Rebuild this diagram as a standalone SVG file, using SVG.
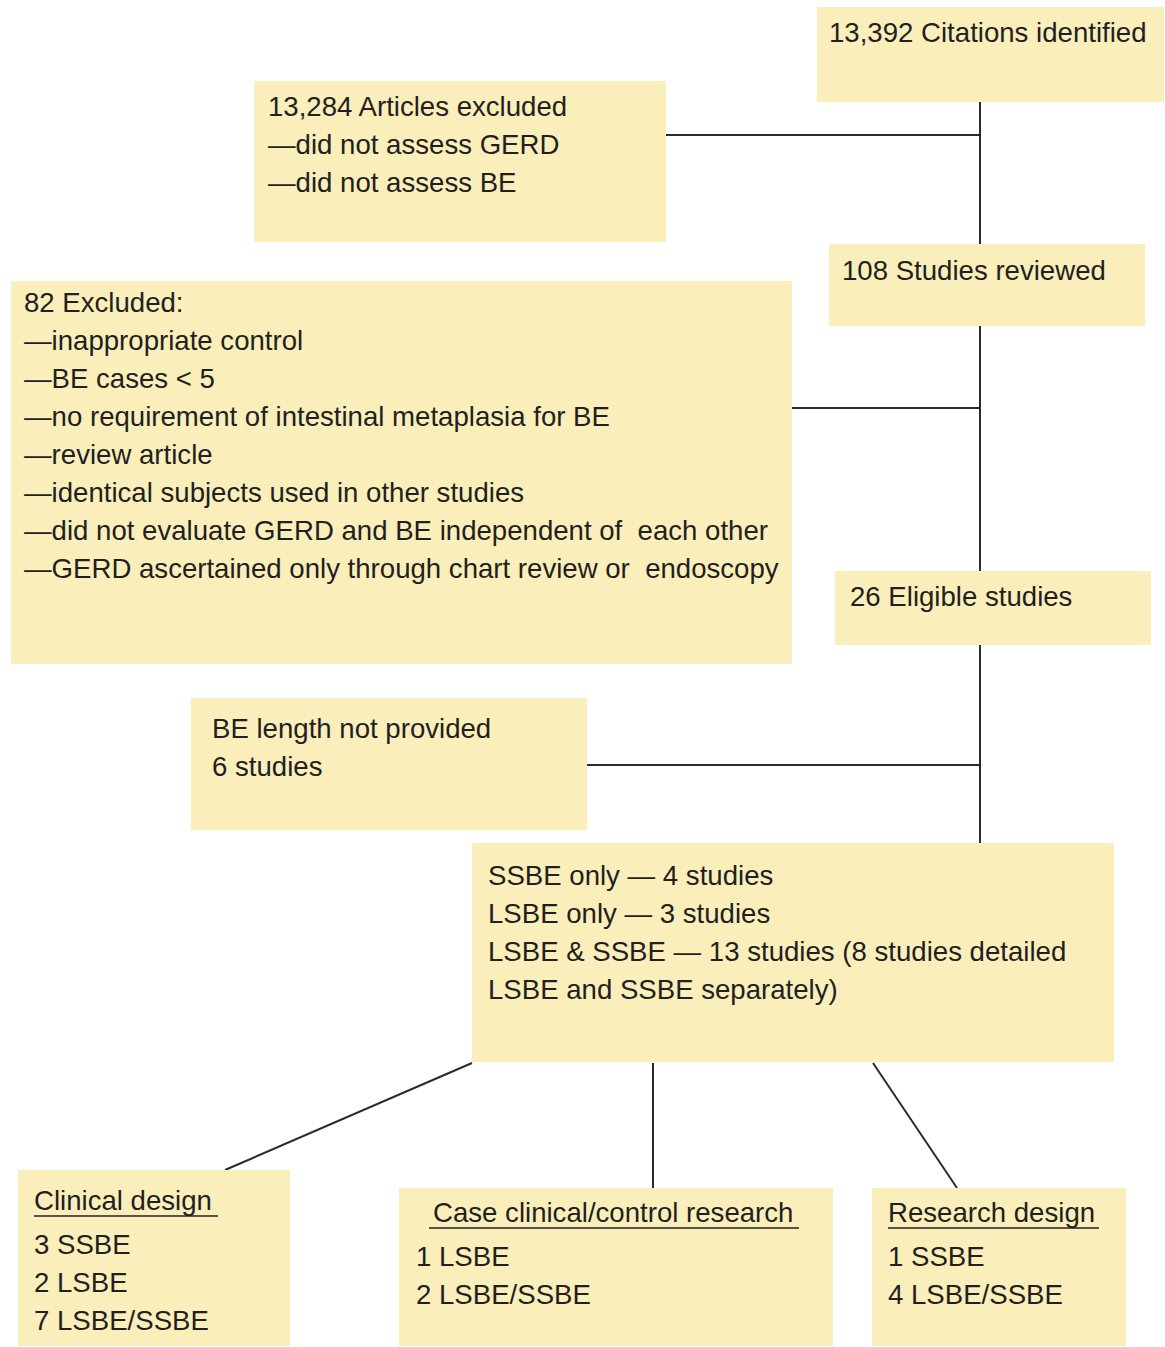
<svg xmlns="http://www.w3.org/2000/svg" width="1165" height="1347" viewBox="0 0 1165 1347">
<style>
.box{fill:#faefbb;stroke:none}
text{font-family:"Liberation Sans",Arial,sans-serif;font-size:27.6px;fill:#231f20}
.ln{stroke:#2b2b2b;stroke-width:2;fill:none}
.ul{stroke:#231f20;stroke-width:1.5}
</style>
<rect width="1165" height="1347" fill="#ffffff"/>
<g id="connectors">
<line class="ln" x1="980" y1="101" x2="980" y2="843"/>
<line class="ln" x1="665" y1="135" x2="980" y2="135"/>
<line class="ln" x1="792" y1="408" x2="980" y2="408"/>
<line class="ln" x1="587" y1="765" x2="980" y2="765"/>
<line class="ln" x1="472" y1="1063" x2="225" y2="1170"/>
<line class="ln" x1="653" y1="1063" x2="653" y2="1188"/>
<line class="ln" x1="873" y1="1063" x2="957" y2="1188"/>
</g>
<g id="citations">
<rect class="box" x="817" y="7" width="347" height="95"/>
<text x="829" y="42">13,392 Citations identified</text>
</g>
<g id="articles-excluded">
<rect class="box" x="254" y="81" width="412" height="161"/>
<text x="268" y="116">13,284 Articles excluded</text>
<text x="268" y="154">—did not assess GERD</text>
<text x="268" y="192">—did not assess BE</text>
</g>
<g id="studies-reviewed">
<rect class="box" x="829" y="244" width="316" height="82"/>
<text x="842" y="280">108 Studies reviewed</text>
</g>
<g id="excluded-82">
<rect class="box" x="11" y="281" width="781" height="383"/>
<text x="24" y="312">82 Excluded:</text>
<text x="24" y="350">—inappropriate control</text>
<text x="24" y="388">—BE cases &lt; 5</text>
<text x="24" y="426">—no requirement of intestinal metaplasia for BE</text>
<text x="24" y="464">—review article</text>
<text x="24" y="502">—identical subjects used in other studies</text>
<text x="24" y="540" xml:space="preserve">—did not evaluate GERD and BE independent of  each other</text>
<text x="24" y="578" xml:space="preserve">—GERD ascertained only through chart review or  endoscopy</text>
</g>
<g id="eligible">
<rect class="box" x="835" y="571" width="316" height="74"/>
<text x="850" y="606">26 Eligible studies</text>
</g>
<g id="be-length">
<rect class="box" x="191" y="698" width="396" height="132"/>
<text x="212" y="738">BE length not provided</text>
<text x="212" y="776">6 studies</text>
</g>
<g id="ssbe-lsbe">
<rect class="box" x="472" y="843" width="642" height="219"/>
<text x="488" y="885">SSBE only — 4 studies</text>
<text x="488" y="923">LSBE only — 3 studies</text>
<text x="488" y="961">LSBE &amp; SSBE — 13 studies (8 studies detailed</text>
<text x="488" y="999">LSBE and SSBE separately)</text>
</g>
<g id="clinical-design">
<rect class="box" x="18" y="1170" width="272" height="176"/>
<text x="34" y="1210">Clinical design</text>
<line class="ul" x1="34" y1="1216" x2="218" y2="1216"/>
<text x="34" y="1254">3 SSBE</text>
<text x="34" y="1292">2 LSBE</text>
<text x="34" y="1330">7 LSBE/SSBE</text>
</g>
<g id="case-control">
<rect class="box" x="399" y="1188" width="434" height="158"/>
<text x="433" y="1222">Case clinical/control research</text>
<line class="ul" x1="429" y1="1228" x2="799" y2="1228"/>
<text x="416" y="1266">1 LSBE</text>
<text x="416" y="1304">2 LSBE/SSBE</text>
</g>
<g id="research-design">
<rect class="box" x="872" y="1188" width="254" height="158"/>
<text x="888" y="1222">Research design</text>
<line class="ul" x1="888" y1="1228" x2="1099" y2="1228"/>
<text x="888" y="1266">1 SSBE</text>
<text x="888" y="1304">4 LSBE/SSBE</text>
</g>
</svg>
